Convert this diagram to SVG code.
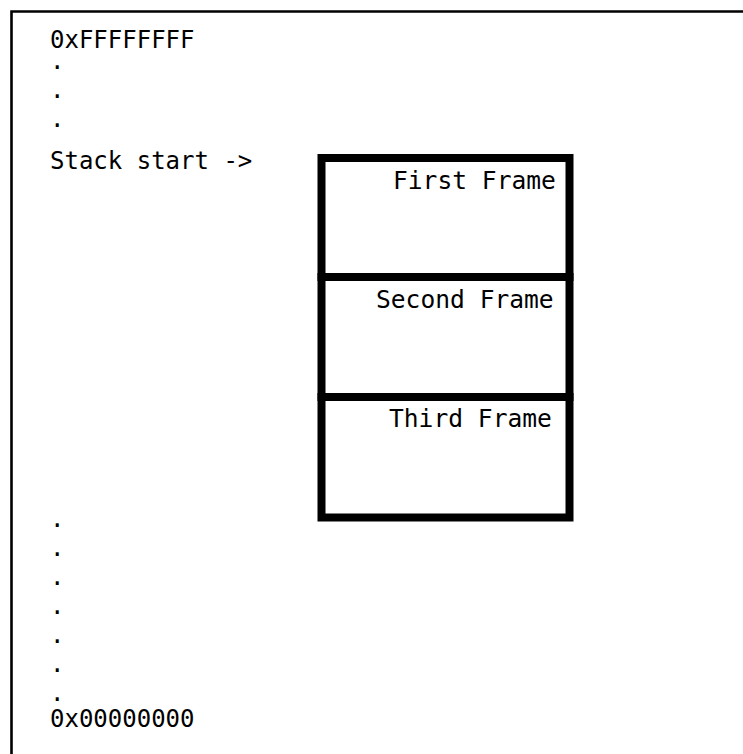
<svg xmlns="http://www.w3.org/2000/svg" width="743" height="754" viewBox="0 0 743 754">
<style>
text{font-family:"DejaVu Sans Mono","Liberation Mono",monospace;font-size:24px;fill:#000}
.lbl{font-size:24.6px}
.frame{fill:#fff;stroke:#000;stroke-width:8}
</style>
<rect width="743" height="754" fill="#fff"/>
<path d="M11.5,754 V11.5 H743" fill="none" stroke="#000" stroke-width="2.6"/>
<g id="addresses">
<text x="50" y="48">0xFFFFFFFF<tspan x="50" y="69">.</tspan><tspan x="50" y="98">.</tspan><tspan x="50" y="127">.</tspan></text>
<text x="50" y="169">Stack start -&gt;</text>
<text x="50" y="527">.<tspan x="50" y="556">.</tspan><tspan x="50" y="585">.</tspan><tspan x="50" y="614">.</tspan><tspan x="50" y="643">.</tspan><tspan x="50" y="672">.</tspan><tspan x="50" y="701">.</tspan><tspan x="50" y="727">0x00000000</tspan></text>
</g>
<g id="first-frame">
<rect class="frame" x="321.5" y="158" width="248" height="119"/>
<text class="lbl" x="393" y="189">First Frame</text>
</g>
<g id="second-frame">
<rect class="frame" x="321.5" y="277" width="248" height="120"/>
<text class="lbl" x="376" y="308">Second Frame</text>
</g>
<g id="third-frame">
<rect class="frame" x="321.5" y="397" width="248" height="120.5"/>
<text class="lbl" x="389" y="427">Third Frame</text>
</g>
<g id="connectors"/>
</svg>
